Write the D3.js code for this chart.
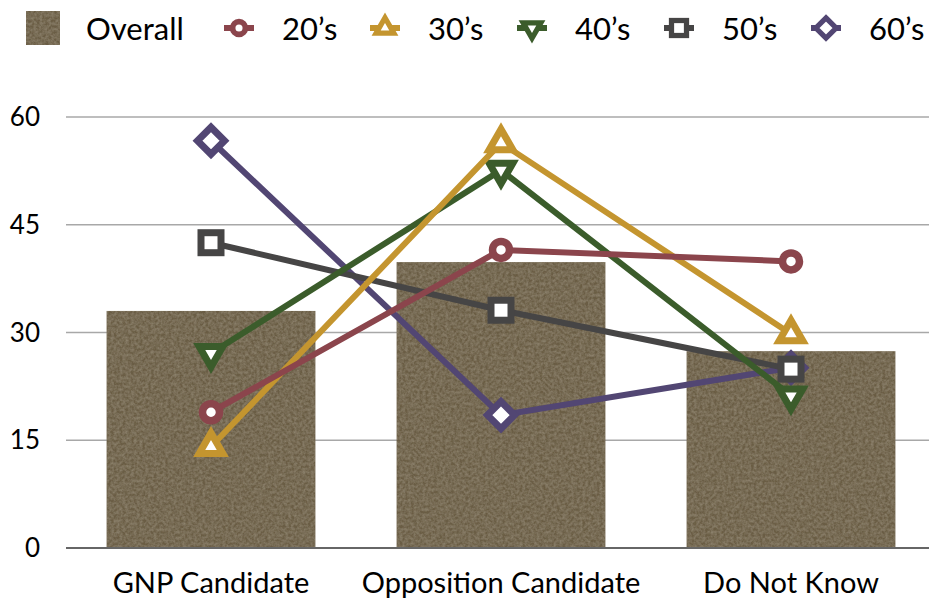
<!DOCTYPE html>
<html><head><meta charset="utf-8">
<script src="https://cdn.jsdelivr.net/npm/d3@7"></script>
<style>body{margin:0;background:#fff}svg{display:block}text{font-family:Lato,"Open Sans",sans-serif;fill:#000}</style>
</head><body><svg id="c" width="929" height="601"></svg>
<script>
const categories = ["GNP Candidate", "Opposition Candidate", "Do Not Know"];
const overall = [33.0, 39.8, 27.4];
const s20 = [18.9, 41.5, 39.9];
const s30 = [14.1, 56.4, 29.8];
const s40 = [27.1, 52.6, 21.2];
const s50 = [42.5, 33.1, 24.9];
const s60 = [56.7, 18.5, 25.1];
const seriesNames = ["20\u2019s", "30\u2019s", "40\u2019s", "50\u2019s", "60\u2019s"];
const yTicks = [0, 15, 30, 45, 60];

const series = [
  {name: seriesNames[0], values: s20, color: "#8b454c", sym: "circle"},
  {name: seriesNames[1], values: s30, color: "#c4952f", sym: "up"},
  {name: seriesNames[2], values: s40, color: "#3b5c2b", sym: "down"},
  {name: seriesNames[3], values: s50, color: "#464545", sym: "square"},
  {name: seriesNames[4], values: s60, color: "#524673", sym: "diamond"}
];
const barColor = "#6b5d44";

const svg = d3.select("#c");
const defs = svg.append("defs");
const f = defs.append("filter").attr("id", "tex").attr("x", 0).attr("y", 0).attr("width", 1).attr("height", 1);
f.append("feTurbulence").attr("type", "fractalNoise").attr("baseFrequency", 0.35).attr("numOctaves", 3).attr("seed", 5).attr("result", "n");
f.append("feColorMatrix").attr("in", "n").attr("type", "matrix")
  .attr("values", "0 0 0 0 0.56  0 0 0 0 0.50  0 0 0 0 0.38  0.45 0 0 0 -0.12").attr("result", "nc");
f.append("feComposite").attr("in", "nc").attr("in2", "SourceGraphic").attr("operator", "in").attr("result", "nin");
const fm = f.append("feMerge");
fm.append("feMergeNode").attr("in", "SourceGraphic");
fm.append("feMergeNode").attr("in", "nin");

const x = d3.scaleBand().domain(categories).range([66, 936]).paddingInner(0.28).paddingOuter(0.14);
const y = d3.scaleLinear().domain([0, 60]).range([548, 117]);
const cx = c => x(c) + x.bandwidth() / 2;

// gridlines
svg.append("g").selectAll("line").data(yTicks.filter(t => t > 0)).join("line")
  .attr("x1", 66).attr("x2", 929).attr("y1", d => y(d)).attr("y2", d => y(d))
  .attr("stroke", "#a8a8a8").attr("stroke-width", 1.3);

// y tick labels
svg.append("g").selectAll("text").data(yTicks).join("text")
  .attr("x", 40).attr("y", d => y(d) + 9).attr("text-anchor", "end")
  .attr("font-size", 26).text(d => d);

// bars
svg.append("g").selectAll("rect").data(overall).join("rect")
  .attr("x", (d, i) => x(categories[i])).attr("width", x.bandwidth())
  .attr("y", d => y(d)).attr("height", d => y(0) - y(d))
  .attr("fill", barColor).attr("filter", "url(#tex)");

// baseline
svg.append("line").attr("x1", 66).attr("x2", 929).attr("y1", y(0)).attr("y2", y(0))
  .attr("stroke", "#666").attr("stroke-width", 2);

// category labels
svg.append("g").selectAll("text").data(categories).join("text")
  .attr("x", d => cx(d)).attr("y", 593).attr("text-anchor", "middle")
  .attr("font-size", 29).text(d => d);

function drawMarker(g, sym, color, px, py) {
  const sw = 7;
  if (sym === "circle") {
    g.append("circle").attr("cx", px).attr("cy", py).attr("r", 8.5)
      .attr("fill", "#fff").attr("stroke", color).attr("stroke-width", 7.5);
  } else if (sym === "square") {
    g.append("rect").attr("x", px - 10).attr("y", py - 10).attr("width", 20).attr("height", 20)
      .attr("fill", "#fff").attr("stroke", color).attr("stroke-width", sw);
  } else if (sym === "diamond") {
    const r = 13.5;
    g.append("path").attr("d", `M${px},${py - r}L${px + r},${py}L${px},${py + r}L${px - r},${py}Z`)
      .attr("fill", "#fff").attr("stroke", color).attr("stroke-width", sw).attr("stroke-linejoin", "miter");
  } else if (sym === "up" || sym === "down") {
    const s = sym === "up" ? 1 : -1;
    const R = 13.6, hw = 11.8, b = 6.8;
    g.append("path")
      .attr("d", `M${px},${py - s * R}L${px + hw},${py + s * b}L${px - hw},${py + s * b}Z`)
      .attr("fill", "#fff").attr("stroke", color).attr("stroke-width", sw)
      .attr("stroke-linejoin", "miter").attr("stroke-miterlimit", 10);
  }
}

// series, drawn last-first
const line = d3.line().x((d, i) => cx(categories[i])).y(d => y(d));
series.slice().reverse().forEach(s => {
  const g = svg.append("g");
  g.append("path").attr("d", line(s.values)).attr("fill", "none")
    .attr("stroke", s.color).attr("stroke-width", 6).attr("stroke-linejoin", "round");
  s.values.forEach((v, i) => drawMarker(g, s.sym, s.color, cx(categories[i]), y(v)));
});

// legend
const lg = svg.append("g");
lg.append("rect").attr("x", 26).attr("y", 11).attr("width", 34).attr("height", 34)
  .attr("fill", barColor).attr("filter", "url(#tex)");
lg.append("text").attr("x", 86).attr("y", 40).attr("font-size", 31).text("Overall");
const legX = [239, 385, 532, 679, 826];
series.forEach((s, i) => {
  const g = lg.append("g");
  g.append("line").attr("x1", legX[i] - 15).attr("x2", legX[i] + 15).attr("y1", 28).attr("y2", 28)
    .attr("stroke", s.color).attr("stroke-width", 6);
  const sc = g.append("g").attr("transform", `translate(${legX[i]},28) scale(0.75) translate(${-legX[i]},-28)`);
  drawMarker(sc, s.sym, s.color, legX[i], 28);
  g.append("text").attr("x", legX[i] + 43).attr("y", 40).attr("font-size", 31).text(s.name);
});
</script></body></html>
